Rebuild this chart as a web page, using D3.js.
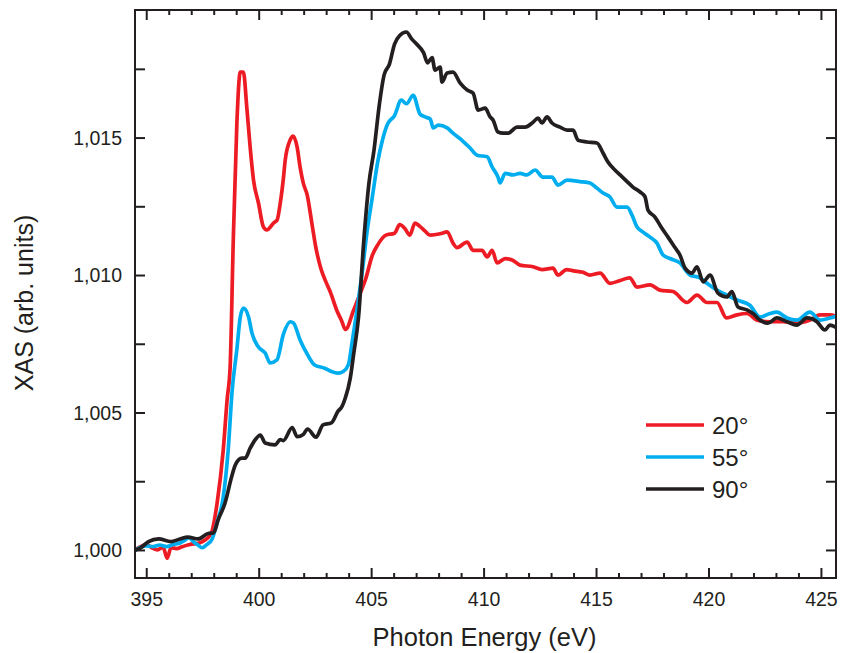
<!DOCTYPE html>
<html>
<head>
<meta charset="utf-8">
<script src="https://cdn.jsdelivr.net/npm/d3@7"></script>
<style>
  html, body { margin: 0; padding: 0; background: #fff; }
  svg { display: block; font-family: "Liberation Sans", Arial, Helvetica, sans-serif; }
</style>
</head>
<body>
<svg id="chart" width="842" height="653"></svg>
<script>
// N K-edge XAS spectra recorded at three incidence angles

const angleLabels = ["20°", "55°", "90°"];
const seriesColors = ["#ED1C24", "#00AEEF", "#231F20"];

const energy20 = [394.5,394.75,395.0,395.25,395.5,395.75,395.93,396.1,396.35,396.6,396.85,397.1,397.35,397.6,397.8,397.93,398.15,398.42,398.6,398.73,398.87,399.03,399.18,399.32,399.47,399.62,399.77,399.99,400.21,400.36,400.66,400.82,400.96,401.09,401.18,401.4,401.53,401.71,401.84,401.98,402.16,402.38,402.53,402.76,402.98,403.2,403.47,403.68,403.86,404.22,404.52,404.75,405.05,405.28,405.66,406.04,406.27,406.49,406.72,406.95,407.17,407.4,407.62,408.07,408.38,408.64,408.82,409.27,409.53,409.93,410.16,410.38,410.6,410.96,411.27,411.62,412.2,412.6,413.09,413.3,413.7,414.0,414.42,414.73,415.18,415.62,416.07,416.5,416.82,417.4,417.84,418.42,419.04,419.49,419.93,420.38,420.8,421.27,421.71,422.16,422.73,423.31,423.93,424.51,424.96,425.4,425.67];
const xas20 = [1.00000,1.00012,1.00020,1.00008,1.00000,1.00010,0.99970,1.00008,1.00005,1.00012,1.00018,1.00022,1.00025,1.00035,1.00050,1.00070,1.00170,1.00360,1.00550,1.00665,1.01127,1.01553,1.01738,1.01738,1.01611,1.01465,1.01345,1.01262,1.01175,1.01164,1.01189,1.01200,1.01262,1.01345,1.01418,1.01491,1.01505,1.01465,1.01393,1.01335,1.01290,1.01180,1.01105,1.01025,1.00977,1.00935,1.00872,1.00835,1.00802,1.00872,1.00935,1.00984,1.01071,1.01108,1.01145,1.01152,1.01183,1.01170,1.01145,1.01189,1.01177,1.01160,1.01145,1.01150,1.01157,1.01116,1.01100,1.01120,1.01090,1.01090,1.01066,1.01090,1.01044,1.01060,1.01055,1.01036,1.01030,1.01020,1.01025,1.01000,1.01020,1.01015,1.01010,1.01000,1.01007,1.00970,1.00980,1.00990,1.00956,1.00964,1.00945,1.00940,1.00900,1.00927,1.00900,1.00900,1.00844,1.00855,1.00860,1.00836,1.00830,1.00830,1.00825,1.00836,1.00855,1.00855,1.00850];

const energy55 = [394.5,394.75,395.0,395.3,395.6,395.9,396.2,396.5,396.7,396.9,397.1,397.3,397.49,397.7,397.93,398.15,398.42,398.64,398.82,399.03,399.18,399.32,399.55,399.7,399.99,400.29,400.51,400.81,401.1,401.41,401.55,401.84,402.14,402.47,402.93,403.23,403.53,403.76,403.99,404.14,404.37,404.6,404.82,405.05,405.28,405.51,405.73,406.04,406.34,406.57,406.87,407.17,407.4,407.63,407.76,407.98,408.38,408.64,409.04,409.4,409.71,410.16,410.38,410.64,410.73,410.96,411.31,411.62,411.93,412.29,412.64,413.04,413.31,413.71,414.29,414.73,415.04,415.31,415.62,415.93,416.38,416.6,416.82,417.09,417.4,417.71,417.98,418.29,418.73,419.18,419.62,419.93,420.38,420.82,421.27,421.84,422.29,422.73,423.04,423.49,423.93,424.51,424.96,425.4,425.67];
const xas55 = [0.99998,1.00010,1.00015,1.00012,1.00018,1.00012,1.00020,1.00025,1.00035,1.00045,1.00030,1.00018,1.00008,1.00020,1.00040,1.00100,1.00190,1.00360,1.00580,1.00730,1.00847,1.00880,1.00847,1.00789,1.00738,1.00716,1.00680,1.00691,1.00785,1.00830,1.00825,1.00764,1.00715,1.00674,1.00661,1.00649,1.00643,1.00649,1.00674,1.00748,1.00872,1.01009,1.01158,1.01282,1.01406,1.01493,1.01549,1.01580,1.01636,1.01623,1.01654,1.01586,1.01575,1.01567,1.01535,1.01545,1.01535,1.01516,1.01490,1.01462,1.01436,1.01430,1.01393,1.01356,1.01335,1.01370,1.01364,1.01370,1.01364,1.01382,1.01356,1.01356,1.01327,1.01345,1.01340,1.01335,1.01316,1.01298,1.01284,1.01247,1.01247,1.01218,1.01175,1.01156,1.01138,1.01116,1.01073,1.01060,1.01044,1.01000,1.00990,1.00970,1.00945,1.00927,1.00909,1.00890,1.00847,1.00860,1.00865,1.00844,1.00836,1.00865,1.00836,1.00844,1.00850];

const energy90 = [394.5,394.75,395.1,395.55,396.1,396.5,396.85,397.3,397.75,397.99,398.2,398.5,398.8,398.96,399.25,399.4,399.62,399.84,400.07,400.29,400.73,400.96,401.1,401.49,401.71,401.98,402.17,402.55,402.86,403.23,403.53,403.7,403.84,404.07,404.22,404.44,404.67,404.9,405.13,405.36,405.58,405.81,406.04,406.27,406.57,406.8,407.02,407.33,407.51,407.71,407.84,408.07,408.15,408.38,408.64,408.96,409.27,409.53,409.76,410.07,410.29,410.42,410.64,410.87,411.09,411.49,411.84,412.2,412.42,412.6,412.82,413.04,413.4,413.71,413.98,414.2,414.6,415.04,415.31,415.53,415.84,416.07,416.38,416.64,416.96,417.18,417.31,417.62,417.93,418.2,418.51,418.73,418.96,419.27,419.49,419.76,420.07,420.42,420.82,421.04,421.31,421.71,421.98,422.29,422.64,423.04,423.49,423.93,424.38,424.82,425.18,425.4,425.67];
const xas90 = [1.00000,1.00008,1.00030,1.00040,1.00030,1.00040,1.00047,1.00040,1.00060,1.00062,1.00110,1.00170,1.00267,1.00309,1.00334,1.00334,1.00370,1.00400,1.00418,1.00389,1.00382,1.00401,1.00398,1.00445,1.00412,1.00420,1.00440,1.00410,1.00455,1.00462,1.00505,1.00521,1.00550,1.00624,1.00711,1.00848,1.01121,1.01332,1.01456,1.01617,1.01729,1.01766,1.01840,1.01871,1.01884,1.01859,1.01840,1.01809,1.01772,1.01791,1.01745,1.01756,1.01702,1.01735,1.01738,1.01698,1.01673,1.01662,1.01600,1.01607,1.01575,1.01564,1.01520,1.01516,1.01516,1.01538,1.01538,1.01556,1.01571,1.01553,1.01575,1.01553,1.01538,1.01527,1.01527,1.01490,1.01484,1.01480,1.01444,1.01411,1.01382,1.01364,1.01340,1.01320,1.01302,1.01284,1.01236,1.01211,1.01170,1.01138,1.01100,1.01073,1.01025,1.01007,1.01030,1.00975,1.01000,1.00934,1.00920,1.00940,1.00884,1.00873,1.00860,1.00836,1.00825,1.00844,1.00830,1.00818,1.00844,1.00830,1.00800,1.00818,1.00810];

const xMajorTicks = [395, 400, 405, 410, 415, 420, 425];
const yMajorTicks = [1.000, 1.005, 1.010, 1.015];
const xLabel = "Photon Energy (eV)";
const yLabel = "XAS (arb. units)";

const series = [
  { label: angleLabels[0], color: seriesColors[0], x: energy20, y: xas20 },
  { label: angleLabels[1], color: seriesColors[1], x: energy55, y: xas55 },
  { label: angleLabels[2], color: seriesColors[2], x: energy90, y: xas90 }
];

const W = 842, H = 653;
const margin = { left: 135, right: 6, top: 10, bottom: 75 };
const iw = W - margin.left - margin.right;
const ih = H - margin.top - margin.bottom;
const ink = "#231F20";

const svg = d3.select("#chart");
const g = svg.append("g").attr("transform", `translate(${margin.left},${margin.top})`);

const x = d3.scaleLinear().domain([394.5, 425.67]).range([0, iw]);
const y = d3.scaleLinear().domain([0.99898, 1.01964]).range([ih, 0]);

const xMinor = d3.range(395, 426, 1).filter(v => v % 5 !== 0);
const yMinor = [1.0025, 1.0075, 1.0125, 1.0175];
const fmtY = v => d3.format(".3f")(v).replace(".", ",");

g.append("clipPath").attr("id", "plot-clip")
  .append("rect").attr("width", iw).attr("height", ih);

// spectra
const line = d3.line().x(d => x(d[0])).y(d => y(d[1])).curve(d3.curveMonotoneX);
g.append("g").attr("clip-path", "url(#plot-clip)")
  .selectAll("path").data(series).join("path")
  .attr("d", s => line(s.x.map((e, i) => [e, s.y[i]])))
  .attr("fill", "none")
  .attr("stroke", s => s.color)
  .attr("stroke-width", 3.7)
  .attr("stroke-linejoin", "round")
  .attr("stroke-linecap", "round");

// inward ticks on all four sides
function addAxis(axis, transform, major, minor, majorLen, minorLen, withLabels) {
  const ga = g.append("g").attr("transform", transform)
    .call(axis.tickValues(major).tickSize(-majorLen)
      .tickFormat(withLabels ? null : () => ""));
  ga.select(".domain").remove();
  ga.selectAll(".tick line").attr("stroke", ink).attr("stroke-width", 2);
  const gm = g.append("g").attr("transform", transform)
    .call(axis.tickValues(minor).tickSize(-minorLen).tickFormat(() => ""));
  gm.select(".domain").remove();
  gm.selectAll(".tick line").attr("stroke", ink).attr("stroke-width", 2);
  return ga;
}

const xb = addAxis(d3.axisBottom(x), `translate(0,${ih})`, xMajorTicks, xMinor, 10, 5, true);
addAxis(d3.axisTop(x), `translate(0,0)`, xMajorTicks, xMinor, 10, 5, false);
const yl = addAxis(d3.axisLeft(y), `translate(0,0)`, yMajorTicks, yMinor, 10, 10, true);
addAxis(d3.axisRight(y), `translate(${iw},0)`, yMajorTicks, yMinor, 10, 10, false);

xb.selectAll(".tick text").text(d => d)
  .attr("y", 0).attr("dy", 28)
  .attr("font-size", 19.5).attr("fill", ink)
  .attr("font-family", "Liberation Sans, Arial, sans-serif");
yl.selectAll(".tick text").text(d => fmtY(d))
  .attr("x", -13).attr("dy", "0.35em")
  .attr("font-size", 19.5).attr("fill", ink)
  .attr("font-family", "Liberation Sans, Arial, sans-serif");

// frame
g.append("rect").attr("width", iw).attr("height", ih)
  .attr("fill", "none").attr("stroke", ink).attr("stroke-width", 2);

// axis titles
svg.append("text")
  .attr("x", margin.left + iw / 2 - 1).attr("y", 646)
  .attr("text-anchor", "middle").attr("font-size", 25.5).attr("fill", ink)
  .text(xLabel);
svg.append("text")
  .attr("transform", `translate(33,${303}) rotate(-90)`)
  .attr("text-anchor", "middle").attr("font-size", 25).attr("fill", ink)
  .text(yLabel);

// legend
const lg = svg.append("g").attr("transform", "translate(646,425)");
const items = lg.selectAll("g").data(series).join("g")
  .attr("transform", (d, i) => `translate(0,${i * 32})`);
items.append("line").attr("x1", 0).attr("x2", 58).attr("y1", 0).attr("y2", 0)
  .attr("stroke", d => d.color).attr("stroke-width", 3.7);
items.append("text").attr("x", 66).attr("y", 9)
  .attr("font-size", 24).attr("fill", ink)
  .text(d => d.label);
</script>
</body>
</html>
